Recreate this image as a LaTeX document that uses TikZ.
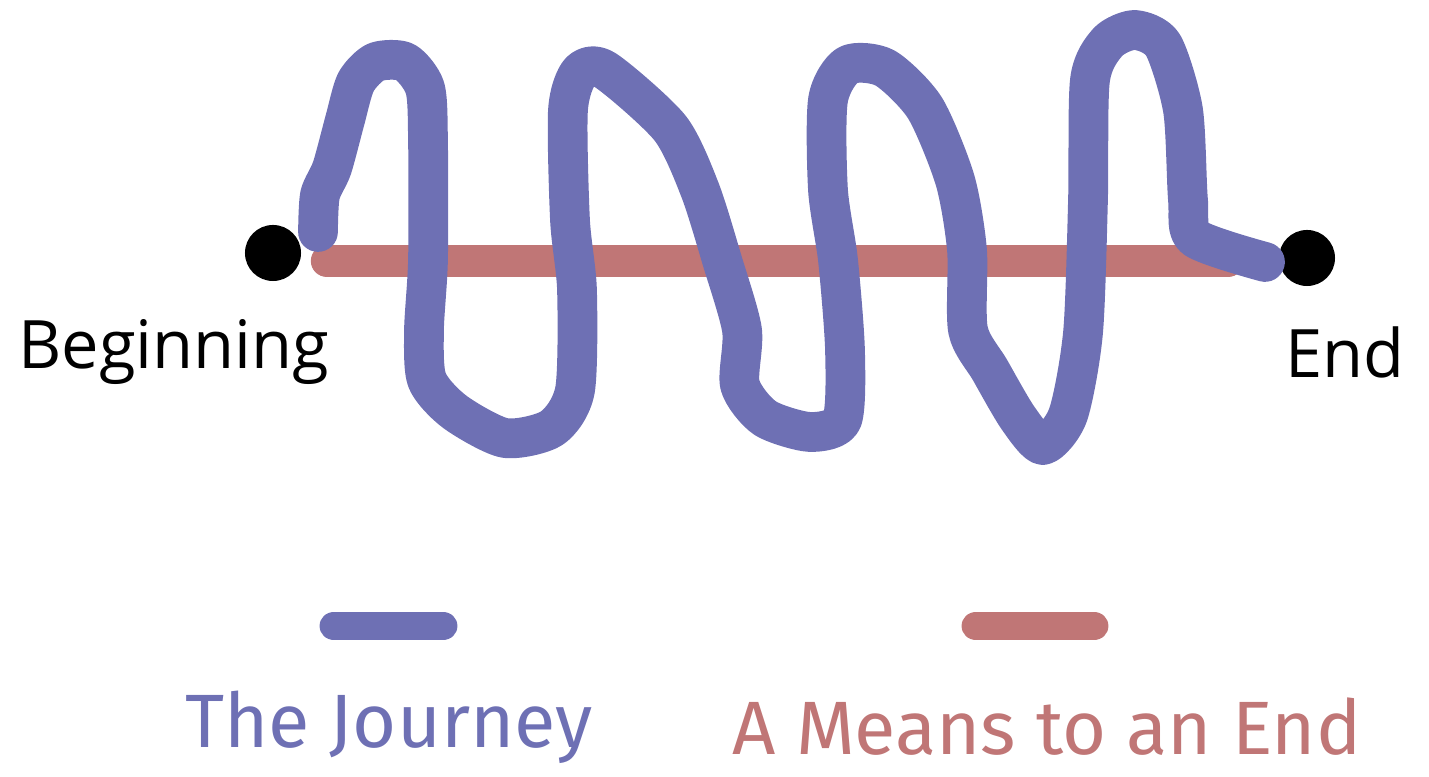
\documentclass[tikz,border=0pt]{standalone}
\usepackage{fontspec}
\newfontfamily\labfont{Open Sans}
\newfontfamily\legfont{Fira Sans}
\definecolor{jblue}{RGB}{110,112,180}
\definecolor{mred}{RGB}{192,118,118}
\tikzset{
  journey/.style={draw=jblue, line width=11.3pt, line cap=round, line join=round},
  means/.style={draw=mred, line width=9.2pt, line cap=round},
  legbar/.style={line width=8.2pt, line cap=round},
  dot/.style={circle, fill=black, inner sep=0pt, minimum size=0.56cm},
  lab/.style={font=\labfont\fontsize{19}{21}\selectfont, text=black, inner sep=0pt},
  legtext/.style={font=\legfont\fontsize{21.5}{25}\selectfont, inner sep=0pt}
}
\begin{document}
\begin{tikzpicture}[x=0.01cm,y=-0.01cm]
\useasboundingbox (0,0) rectangle (1429,777);
% dots
\node[dot] (begin) at (273,253) {};
\node[dot] (end) at (1307,258) {};
% red straight line
\coordinate (ms) at (327,261);
\coordinate (me) at (1228,261);
\draw[means] (ms) -- (me);
% blue journey
\coordinate (js) at (318,232);
\coordinate (je) at (1265,262);
\draw[journey] plot[smooth, tension=0.45] coordinates {
 (js) (320,195) (332,168) (345,120) (356,82) (376,62) (405,62) (425,88)
 (428,140) (428,260) (424,330) (427,380) (455,412) (505,438) (552,428)
 (575,390) (577,290) (570,220) (568,110) (580,72) (605,70) (670,128)
 (700,190) (722,260) (742,330) (740,385) (765,418) (810,432) (842,420)
 (845,350) (838,260) (828,190) (828,100) (848,65) (885,68) (925,108)
 (955,180) (967,250) (968,330) (990,370) (1018,418) (1043,445) (1068,415)
 (1083,333) (1088,200) (1090,80) (1108,42) (1135,30) (1163,45) (1183,110)
 (1188,200) (1195,238) (je)};
% labels
\node[lab] (lbegin) at (174,352) {Beginning};
\node[lab] (lend) at (1345,352) {End};
% legend
\coordinate (lb1) at (334,626);
\coordinate (lb2) at (443,626);
\draw[legbar, jblue] (lb1) -- (lb2);
\coordinate (lr1) at (976,626);
\coordinate (lr2) at (1094,626);
\draw[legbar, mred] (lr1) -- (lr2);
\node[legtext, text=jblue] (tj) at (389,727) {The Journey};
\node[legtext, text=mred] (tm) at (1047,727) {A Means to an End};
\end{tikzpicture}
\end{document}
